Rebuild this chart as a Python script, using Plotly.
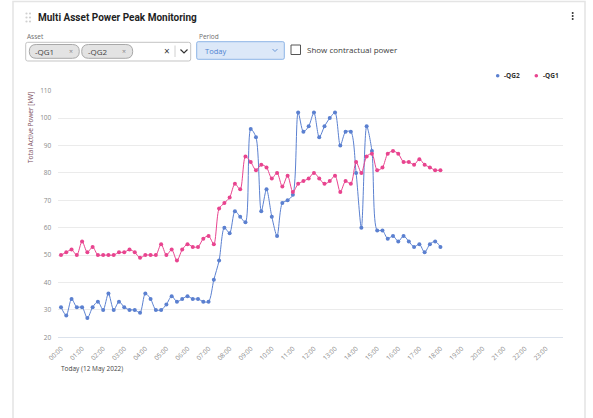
import plotly.graph_objects as go
import pandas as pd

W, H = 593, 418

# ---------------- data ----------------
start_time = "2022-05-12 00:00"
n_points = 73
times = pd.date_range(start_time, periods=n_points, freq="15min")

qg1 = [50, 51, 52, 50, 55, 51, 53, 50, 50, 50, 50, 51, 51, 52, 51, 49, 50,
       50, 50, 54, 50, 52, 48, 52, 54, 53, 53, 56, 57, 54, 67, 69, 71, 76, 74, 86,
       84, 81, 83, 82, 78, 80, 75, 79, 73, 76, 77, 78, 80, 78, 76, 77, 79, 73,
       77, 76, 84, 80, 86, 87, 81, 82, 87, 88, 87, 84, 84, 83, 85, 83, 82, 81, 81]

qg2 = [31, 28, 34, 31, 31, 27, 31, 33, 30, 36, 30, 33, 31, 30, 30, 29, 36,
       34, 30, 30, 32, 35, 33, 34, 35, 34, 34, 33, 33, 41, 48, 60, 58, 66, 64, 62,
       96, 93, 66, 74, 64, 57, 69, 70, 72, 102, 95, 97, 102, 93, 97, 100, 102, 90,
       95, 95, 80, 60, 97, 88, 59, 59, 56, 57, 55, 57, 55, 53, 54, 51, 54, 55, 53]

series_names = ["-QG2", "-QG1"]
y_ticks = [20, 30, 40, 50, 60, 70, 80, 90, 100, 110]
asset_chips = ["-QG1", "-QG2"]
period_value = "Today"
date_caption = "Today (12 May 2022)"

BLUE = "#5b80d0"
PINK = "#e8448f"
FONT = "Open Sans"


def X(px):
    return px / W


def Y(py):
    return 1 - py / H


def rrect(x0, y0, x1, y1, r):
    pts = [
        (x0 + r, y0), (x1 - r, y0), ("Q", x1, y0, x1, y0 + r), (x1, y1 - r),
        ("Q", x1, y1, x1 - r, y1), (x0 + r, y1), ("Q", x0, y1, x0, y1 - r),
        (x0, y0 + r), ("Q", x0, y0, x0 + r, y0),
    ]
    s = "M %.5f,%.5f" % (X(pts[0][0]), Y(pts[0][1]))
    for p in pts[1:]:
        if p[0] == "Q":
            s += " Q %.5f,%.5f %.5f,%.5f" % (X(p[1]), Y(p[2]), X(p[3]), Y(p[4]))
        else:
            s += " L %.5f,%.5f" % (X(p[0]), Y(p[1]))
    return s + " Z"


fig = go.Figure()
fig.add_trace(go.Scatter(
    x=times, y=qg2, name=series_names[0], mode="lines+markers",
    line=dict(color=BLUE, width=1, shape="spline", smoothing=0.8),
    marker=dict(size=4, color=BLUE), showlegend=False))
fig.add_trace(go.Scatter(
    x=times, y=qg1, name=series_names[1], mode="lines+markers",
    line=dict(color=PINK, width=1, shape="spline", smoothing=0.8),
    marker=dict(size=4, color=PINK), showlegend=False))

shapes = []
annotations = []

# card border
shapes.append(dict(type="rect", xref="paper", yref="paper",
                   x0=X(13), x1=X(585), y0=Y(430), y1=Y(1.5),
                   line=dict(color="#e4e4e4", width=1.5), fillcolor="rgba(0,0,0,0)", layer="below"))

# drag handle dots
for cx in (26.5, 30.0):
    for cy in (13.5, 17.5, 21.5):
        shapes.append(dict(type="circle", xref="paper", yref="paper",
                           x0=X(cx - 1.1), x1=X(cx + 1.1), y0=Y(cy + 1.1), y1=Y(cy - 1.1),
                           line=dict(width=0), fillcolor="#d0d0d0"))

# kebab menu dots
for cy in (13.0, 16.0, 19.0):
    shapes.append(dict(type="circle", xref="paper", yref="paper",
                       x0=X(572.7 - 1), x1=X(572.7 + 1), y0=Y(cy + 1), y1=Y(cy - 1),
                       line=dict(width=0), fillcolor="#333333"))

# title
annotations.append(dict(text="<b>Multi Asset Power Peak Monitoring</b>", xref="paper", yref="paper",
                        x=X(35.5), y=Y(17.5), xanchor="left", yanchor="middle", showarrow=False,
                        font=dict(family="Roboto", size=10, color="#1f1f1f")))

# Asset label and box
annotations.append(dict(text="Asset", xref="paper", yref="paper", x=X(25), y=Y(36),
                        xanchor="left", yanchor="middle", showarrow=False,
                        font=dict(family=FONT, size=6.5, color="#6e6e6e")))
shapes.append(dict(type="path", xref="paper", yref="paper", path=rrect(25.7, 42.3, 190.7, 61, 2),
                   line=dict(color="#c4c4c4", width=1), fillcolor="white"))
chip_x = [(29.3, 79.3), (81.7, 132.7)]
for (cx0, cx1), label in zip(chip_x, asset_chips):
    shapes.append(dict(type="path", xref="paper", yref="paper", path=rrect(cx0, 44.5, cx1, 58.3, 6.9),
                       line=dict(color="#a8a8a8", width=1), fillcolor="#e3e3e3"))
    annotations.append(dict(text=label, xref="paper", yref="paper", x=X(cx0 + 4), y=Y(51.5),
                            xanchor="left", yanchor="middle", showarrow=False,
                            font=dict(family=FONT, size=8, color="#444")))
    annotations.append(dict(text="×", xref="paper", yref="paper", x=X(cx1 - 8.5), y=Y(51.3),
                            xanchor="center", yanchor="middle", showarrow=False,
                            font=dict(family=FONT, size=7, color="#888")))
annotations.append(dict(text="×", xref="paper", yref="paper", x=X(166.7), y=Y(51.5),
                        xanchor="center", yanchor="middle", showarrow=False,
                        font=dict(family=FONT, size=10, color="#333")))
shapes.append(dict(type="line", xref="paper", yref="paper", x0=X(175), x1=X(175), y0=Y(45.5), y1=Y(57),
                   line=dict(color="#d0d0d0", width=1)))
shapes.append(dict(type="path", xref="paper", yref="paper",
                   path="M %.5f,%.5f L %.5f,%.5f L %.5f,%.5f" % (X(180.5), Y(49.5), X(184), Y(53), X(187.5), Y(49.5)),
                   line=dict(color="#333", width=1.2)))

# Period label and dropdown
annotations.append(dict(text="Period", xref="paper", yref="paper", x=X(196.7), y=Y(36),
                        xanchor="left", yanchor="middle", showarrow=False,
                        font=dict(family=FONT, size=6.5, color="#6e6e6e")))
shapes.append(dict(type="path", xref="paper", yref="paper", path=rrect(196.7, 41.7, 284.3, 59.3, 1.5),
                   line=dict(color="#8db4e6", width=1), fillcolor="#dce8f8"))
annotations.append(dict(text=period_value, xref="paper", yref="paper", x=X(203.5), y=Y(50.8),
                        xanchor="left", yanchor="middle", showarrow=False,
                        font=dict(family=FONT, size=7.5, color="#4f83d1")))
shapes.append(dict(type="path", xref="paper", yref="paper",
                   path="M %.5f,%.5f L %.5f,%.5f L %.5f,%.5f" % (X(272.5), Y(49), X(275), Y(51.5), X(277.5), Y(49)),
                   line=dict(color="#6a98d8", width=1)))

# checkbox
shapes.append(dict(type="rect", xref="paper", yref="paper", x0=X(291), x1=X(300.5), y0=Y(54.5), y1=Y(45),
                   line=dict(color="#555", width=1), fillcolor="white"))
annotations.append(dict(text="Show contractual power", xref="paper", yref="paper", x=X(305), y=Y(49),
                        xanchor="left", yanchor="middle", showarrow=False,
                        font=dict(family=FONT, size=8, color="#3c3c3c")))

# legend (custom)
legend_items = [(497.7, 502, series_names[0], BLUE), (536.3, 541, series_names[1], PINK)]
for dx, tx, name, col in legend_items:
    shapes.append(dict(type="circle", xref="paper", yref="paper",
                       x0=X(dx - 1.8), x1=X(dx + 1.8), y0=Y(75.7 + 1.8), y1=Y(75.7 - 1.8),
                       line=dict(width=0), fillcolor=col))
    annotations.append(dict(text="<b>%s</b>" % name, xref="paper", yref="paper", x=X(tx), y=Y(75.7),
                            xanchor="left", yanchor="middle", showarrow=False,
                            font=dict(family=FONT, size=6.5, color="#333")))

# y axis title
annotations.append(dict(text="Total Active Power [kW]", xref="paper", yref="paper", x=X(30), y=Y(128),
                        xanchor="center", yanchor="middle", textangle=-90, showarrow=False,
                        font=dict(family=FONT, size=6.5, color="#7b4d5c")))

# date caption
annotations.append(dict(text=date_caption, xref="paper", yref="paper", x=X(58.5), y=Y(368),
                        xanchor="left", yanchor="middle", showarrow=False,
                        font=dict(family=FONT, size=6.5, color="#444")))

fig.update_layout(
    width=W, height=H,
    margin=dict(l=0, r=0, t=0, b=0, pad=0, autoexpand=False),
    paper_bgcolor="white", plot_bgcolor="white",
    font=dict(family=FONT, size=7, color="#8a8a8a"),
    showlegend=False, hovermode=False,
    xaxis=dict(
        domain=[X(58.3), X(563.3)], type="date", automargin=False,
        range=["2022-05-11 23:52:18", "2022-05-12 23:49:45"],
        tick0="2022-05-12 00:00", dtick=3600000, tickformat="%H:%M", tickangle=-45,
        showgrid=False, zeroline=False, showline=True, linecolor="#dbe2ec", linewidth=1,
        ticks="", ticklabelstandoff=4, tickfont=dict(family=FONT, size=6.5, color="#8a8a8a"),
    ),
    yaxis=dict(
        domain=[Y(337.3), Y(90.7)], range=[20, 110], tickvals=y_ticks, automargin=False,
        showgrid=True, gridcolor="#ebebeb", gridwidth=1, zeroline=False, showline=False,
        ticks="", ticklabelstandoff=6, tickfont=dict(family=FONT, size=6.5, color="#8a8a8a"),
    ),
    shapes=shapes, annotations=annotations,
)

fig.write_html("out.html", config={"displayModeBar": False},
               post_script="document.body.style.margin='0';document.body.style.overflow='hidden';")
